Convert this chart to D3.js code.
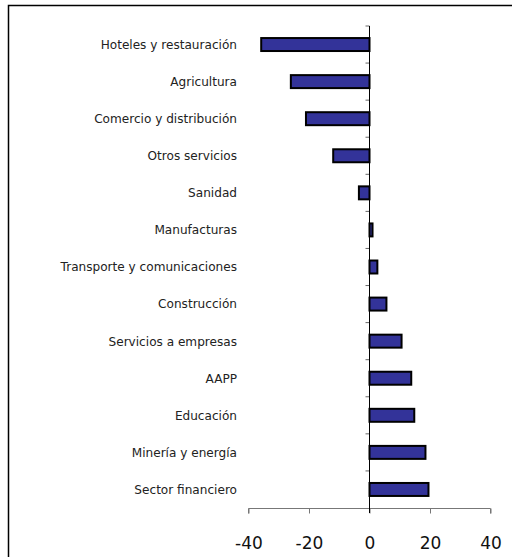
<!DOCTYPE html>
<html>
<head>
<meta charset="utf-8">
<script src="https://cdn.jsdelivr.net/npm/d3@7"></script>
<style>
  body { margin: 0; background: #fff; }
  svg { display: block; }
</style>
</head>
<body>
<div id="chart"></div>
<script>
// sectors, top to bottom
var sectors = ["Hoteles y restauración", "Agricultura", "Comercio y distribución",
  "Otros servicios", "Sanidad", "Manufacturas", "Transporte y comunicaciones",
  "Construcción", "Servicios a empresas", "AAPP", "Educación",
  "Minería y energía", "Sector financiero"];
var values = [-35.8, -26, -21, -12, -3.5, 1, 2.6, 5.6, 10.6, 13.8, 14.8, 18.5, 19.5];
var xTicks = [-40, -20, 0, 20, 40];

var W = 512, H = 557;
var svg = d3.select("#chart").append("svg")
  .attr("width", W)
  .attr("height", H);

// frame (right and bottom edges fall off the picture)
svg.append("rect")
  .attr("x", 8.5).attr("y", 5.5)
  .attr("width", 520).attr("height", 570)
  .attr("fill", "none")
  .attr("stroke", "#000")
  .attr("stroke-width", 1.5);

var x = d3.scaleLinear().domain([-40, 40]).range([248.5, 490.5]);
var y = d3.scaleBand().domain(sectors).range([26, 508])
  .paddingInner(0.65).paddingOuter(0.325);

// bars
svg.selectAll(".bar")
  .data(values)
  .enter().append("rect")
  .attr("class", "bar")
  .attr("x", function(d) { return x(Math.min(0, d)); })
  .attr("y", function(d, i) { return y(sectors[i]); })
  .attr("width", function(d) { return Math.abs(x(d) - x(0)); })
  .attr("height", y.bandwidth())
  .attr("fill", "#333399")
  .attr("stroke", "#000")
  .attr("stroke-width", 2);

// category labels
svg.selectAll(".lbl")
  .data(sectors)
  .enter().append("text")
  .attr("class", "lbl")
  .attr("x", 237)
  .attr("y", function(d) { return y(d) + y.bandwidth() / 2; })
  .attr("dy", "0.36em")
  .attr("text-anchor", "end")
  .style("font-family", "DejaVu Sans")
  .style("font-size", "12.1px")
  .style("fill", "#222")
  .text(function(d) { return d; });

// category ticks on the zero line
var step = y.step();
var bounds = d3.range(sectors.length).map(function(i) { return y.range()[0] + i * step; });
svg.selectAll(".ctick")
  .data(bounds)
  .enter().append("line")
  .attr("x1", x(0) - 4).attr("x2", x(0))
  .attr("y1", function(d) { return d; })
  .attr("y2", function(d) { return d; })
  .attr("stroke", "#666");

// x axis
var xAxis = d3.axisBottom(x).tickValues(xTicks).tickSize(5).tickPadding(23)
  .tickFormat(function(d) { return String(d); });
var gx = svg.append("g")
  .attr("transform", "translate(0,508.5)")
  .call(xAxis);
gx.select(".domain").attr("stroke", "#777").attr("d", "M" + x(-40) + ",5V0H" + x(40) + "V5");
gx.selectAll(".tick line").attr("stroke", "#777");
gx.selectAll(".tick text")
  .style("font-family", "DejaVu Sans")
  .style("font-size", "17px")
  .style("fill", "#111");

// zero line
svg.append("line")
  .attr("x1", x(0)).attr("x2", x(0))
  .attr("y1", 26).attr("y2", 513)
  .attr("stroke", "#000")
  .attr("stroke-width", 1);
</script>
</body>
</html>
